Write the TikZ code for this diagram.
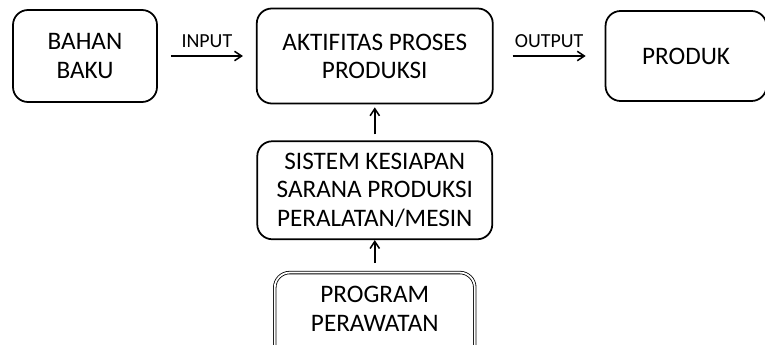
\documentclass[tikz,border=0pt]{standalone}
\usepackage{fontspec}
\setmainfont{Carlito}
\usetikzlibrary{positioning, arrows.meta}

\begin{document}
\begin{tikzpicture}[
    x=0.03cm, y=-0.03cm,
    box/.style={draw, rectangle, rounded corners=0.45cm, line width=1.5pt, align=center,
        font=\fontsize{21.5}{24}\selectfont},
    dbox/.style={box, line width=0.7pt, double, double distance=1.5pt},
    arr/.style={-{Straight Barb[length=6pt, width=8pt]}, line width=1.3pt},
    lbl/.style={font=\fontsize{17}{20}\selectfont}
]
    \useasboundingbox (0,0) rectangle (765,345);
    \clip (0,0) rectangle (765,345);

    % Top row
    \node[box, minimum width=4.32cm, minimum height=2.76cm] (bahan) at (85,56) {BAHAN\\BAKU};
    \node[box, minimum width=7.08cm, minimum height=2.85cm, right=2.94cm of bahan] (aktif) {AKTIFITAS PROSES\\PRODUKSI};
    \node[box, minimum width=4.83cm, minimum height=2.7cm, right=3.33cm of aktif] (produk) {PRODUK};

    % Support column below
    \node[box, minimum width=7.05cm, minimum height=2.94cm, below=1.08cm of aktif] (sistem) {SISTEM KESIAPAN\\SARANA PRODUKSI\\PERALATAN/MESIN};
    \node[dbox, minimum width=6.0cm, inner ysep=0.42cm, below=0.96cm of sistem] (program) {PROGRAM\\PERAWATAN\\\mbox{}};

    % Flows
    \draw[arr, shorten <=0.39cm, shorten >=0.39cm] (bahan.east) -- (aktif.west)
        node[midway, above=3pt, lbl] {INPUT};
    \draw[arr, shorten <=0.57cm, shorten >=0.57cm] (aktif.east) -- (produk.west)
        node[midway, above=3pt, lbl] {OUTPUT};
    \draw[arr, shorten <=0.18cm, shorten >=0.09cm] (sistem.north) -- (aktif.south);
    \draw[arr, shorten <=0.27cm] (program.north) -- (sistem.south);
\end{tikzpicture}
\end{document}
